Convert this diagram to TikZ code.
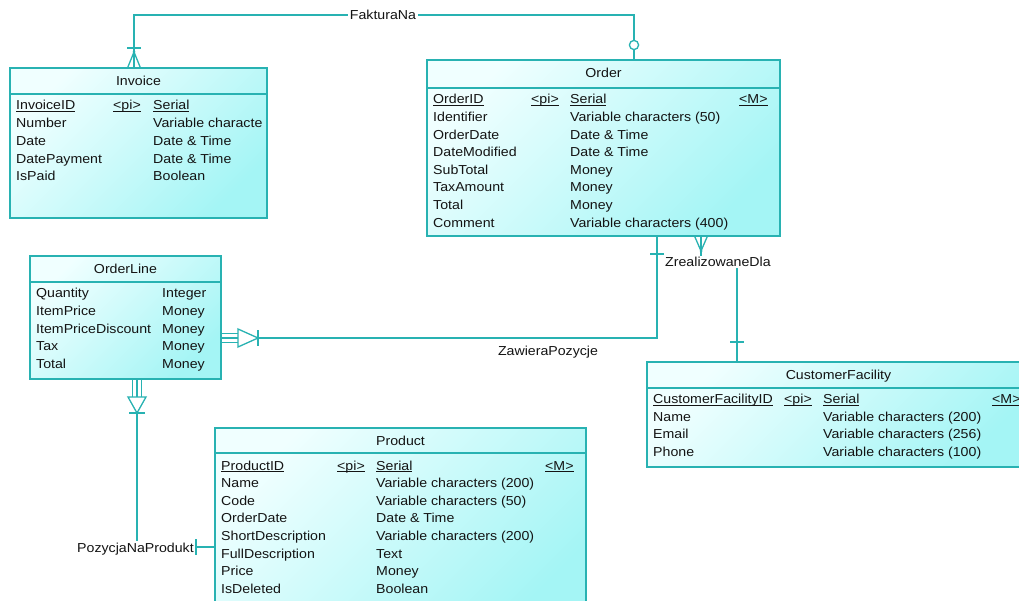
\documentclass[tikz,border=0pt]{standalone}
\usepackage{fontspec}
\setmainfont{Liberation Sans}[FakeStretch=1.09]
\usetikzlibrary{calc}
\definecolor{bord}{RGB}{40,178,178}
\definecolor{fillA}{RGB}{240,255,255}
\definecolor{fillB}{RGB}{164,245,245}
\definecolor{txt}{RGB}{20,20,20}
\newcommand\erf{\fontsize{13}{15}\selectfont}
\newcommand\keyu[1]{\setbox0\hbox{#1}\rlap{\rule[-2.3pt]{\wd0}{0.9pt}}\box0}
\begin{document}
\begin{tikzpicture}[x=1pt,y=-1pt,
 ent/.style={draw=bord, line width=1.5pt, top color=fillA, bottom color=fillB, shading angle=45, anchor=north west, inner sep=0pt, outer sep=0pt},
 sepl/.style={draw=bord, line width=1.3pt},
 fld/.style={anchor=base west, inner sep=0pt, font=\erf, text=txt},
 ttl/.style={anchor=base, inner sep=0pt, font=\erf, text=txt},
 conn/.style={draw=bord, line width=1.4pt},
 deco/.style={draw=bord, line width=1.3pt},
 lbl/.style={font=\erf, text=txt, inner sep=1.5pt},
]
\clip (0,0) rectangle (1019,601);
\fill[white] (0,0) rectangle (1019,601);

% ---------- entities ----------
\node[ent, minimum width=257pt, minimum height=150pt] (invoice) at (10,68) {};
\node[ent, minimum width=353pt, minimum height=176pt] (order) at (427,60) {};
\node[ent, minimum width=191pt, minimum height=123pt] (orderline) at (30,256) {};
\node[ent, minimum width=371pt, minimum height=200pt] (product) at (215,428) {};
\node[ent, minimum width=383pt, minimum height=105pt] (cf) at (647,362) {};

\draw[sepl] (invoice.west |- 0,94) -- (invoice.east |- 0,94);
\draw[sepl] (order.west |- 0,88) -- (order.east |- 0,88);
\draw[sepl] (orderline.west |- 0,282) -- (orderline.east |- 0,282);
\draw[sepl] (product.west |- 0,453) -- (product.east |- 0,453);
\draw[sepl] (cf.west |- 0,388) -- (cf.east |- 0,388);

% titles
\node[ttl] (tInvoice) at (138.5,86) {Invoice};
\node[ttl] (tOrder) at (603.5,78) {Order};
\node[ttl] (tOrderLine) at (125.5,273.5) {OrderLine};
\node[ttl] (tProduct) at (400.5,445) {Product};
\node[ttl] (tCF) at (838.5,379) {CustomerFacility};

% Invoice fields
\begin{scope}
\clip (11,95) rectangle (265.5,217);
\node[fld] (i0n) at (16,110) {\keyu{InvoiceID}};
\node[fld] (i0k) at (113,110) {\keyu{<pi>}};
\node[fld] (i0t) at (153,110) {\keyu{Serial}};
\foreach \n/\t [count=\k] in {Number/Variable characte, Date/Date \& Time, DatePayment/Date \& Time, IsPaid/Boolean} {
  \node[fld] (i\k n) at (16,110+17.7*\k) {\n};
  \node[fld] (i\k t) at (153,110+17.7*\k) {\t};
}
\end{scope}

% Order fields
\node[fld] (o0n) at (433,104) {\keyu{OrderID}};
\node[fld] (o0k) at (531,104) {\keyu{<pi>}};
\node[fld] (o0t) at (570,104) {\keyu{Serial}};
\node[fld] (o0m) at (739,104) {\keyu{<M>}};
\foreach \n/\t [count=\k] in {Identifier/Variable characters (50), OrderDate/Date \& Time, DateModified/Date \& Time, SubTotal/Money, TaxAmount/Money, Total/Money, Comment/Variable characters (400)} {
  \node[fld] (o\k n) at (433,104+17.6*\k) {\n};
  \node[fld] (o\k t) at (570,104+17.6*\k) {\t};
}

% OrderLine fields
\foreach \n/\t [count=\k from 0] in {Quantity/Integer, ItemPrice/Money, ItemPriceDiscount/Money, Tax/Money, Total/Money} {
  \node[fld] (l\k n) at (36,298+17.6*\k) {\n};
  \node[fld] (l\k t) at (162,298+17.6*\k) {\t};
}

% Product fields
\node[fld] (p0n) at (221,470) {\keyu{ProductID}};
\node[fld] (p0k) at (337,470) {\keyu{<pi>}};
\node[fld] (p0t) at (376,470) {\keyu{Serial}};
\node[fld] (p0m) at (545,470) {\keyu{<M>}};
\foreach \n/\t [count=\k] in {Name/Variable characters (200), Code/Variable characters (50), OrderDate/Date \& Time, ShortDescription/Variable characters (200), FullDescription/Text, Price/Money, IsDeleted/Boolean} {
  \node[fld] (p\k n) at (221,470+17.6*\k) {\n};
  \node[fld] (p\k t) at (376,470+17.6*\k) {\t};
}

% CustomerFacility fields
\node[fld] (c0n) at (653,403.5) {\keyu{CustomerFacilityID}};
\node[fld] (c0k) at (784,403.5) {\keyu{<pi>}};
\node[fld] (c0t) at (823,403.5) {\keyu{Serial}};
\node[fld] (c0m) at (992,403.5) {\keyu{<M>}};
\foreach \n/\t [count=\k] in {Name/Variable characters (200), Email/Variable characters (256), Phone/Variable characters (100)} {
  \node[fld] (c\k n) at (653,403.5+17.6*\k) {\n};
  \node[fld] (c\k t) at (823,403.5+17.6*\k) {\t};
}

% ---------- connectors ----------
% FakturaNa
\coordinate (fkI) at ([xshift=124pt]invoice.north west);
\coordinate (fkO) at ([xshift=207pt]order.north west);
\draw[conn] (fkI) -- (fkI |- 0,15) -- (fkO |- 0,15) -- (fkO);
\draw[deco] (127,48) -- (141,48);
\draw[deco] (127.5,68) -- (134,52) -- (140.5,68);
\fill[bord] (134,52) circle (1.5);
\draw[deco, fill=white] (634,45) circle (4.6);
\node[lbl, fill=white] (lFak) at (383,15) {FakturaNa};

% ZawieraPozycje
\coordinate (zpO) at ([xshift=230pt]order.south west);
\draw[conn] (zpO) |- (orderline.east |- 0,338);
\draw[deco] (650,254) -- (664,254);
\draw[deco] (221,333.3) -- (238,333.3) (221,342.7) -- (238,342.7);
\draw[deco, fill=white] (238,329) -- (258,338) -- (238,347) -- cycle;
\draw[deco] (258,330) -- (258,346);
\node[lbl] (lZaw) at (548,352) {ZawieraPozycje};

% ZrealizowaneDla
\coordinate (zdO) at ([xshift=274pt]order.south west);
\coordinate (zdC) at ([xshift=90pt]cf.north west);
\draw[conn] (zdO) -- (zdO |- 0,263) -- (zdC |- 0,263) -- (zdC);
\draw[deco] (694.5,236) -- (701,251) -- (707.5,236);
\fill[bord] (701,251) circle (1.5);
\draw[deco] (730,342) -- (744,342);
\node[lbl, fill=white] (lZre) at (718,262) {ZrealizowaneDla};

% PozycjaNaProdukt
\coordinate (ppL) at ([xshift=107pt]orderline.south west);
\draw[conn] (ppL) |- (product.west |- 0,547);
\draw[deco] (132.3,379) -- (132.3,397) (141.7,379) -- (141.7,397);
\draw[deco, fill=white] (128,397) -- (137,413) -- (146,397) -- cycle;
\draw[deco] (129,413) -- (145,413);
\node[lbl, fill=white] (lPoz) at (135.5,549) {PozycjaNaProdukt};
\draw[deco] (196,539) -- (196,555);
\end{tikzpicture}
\end{document}
